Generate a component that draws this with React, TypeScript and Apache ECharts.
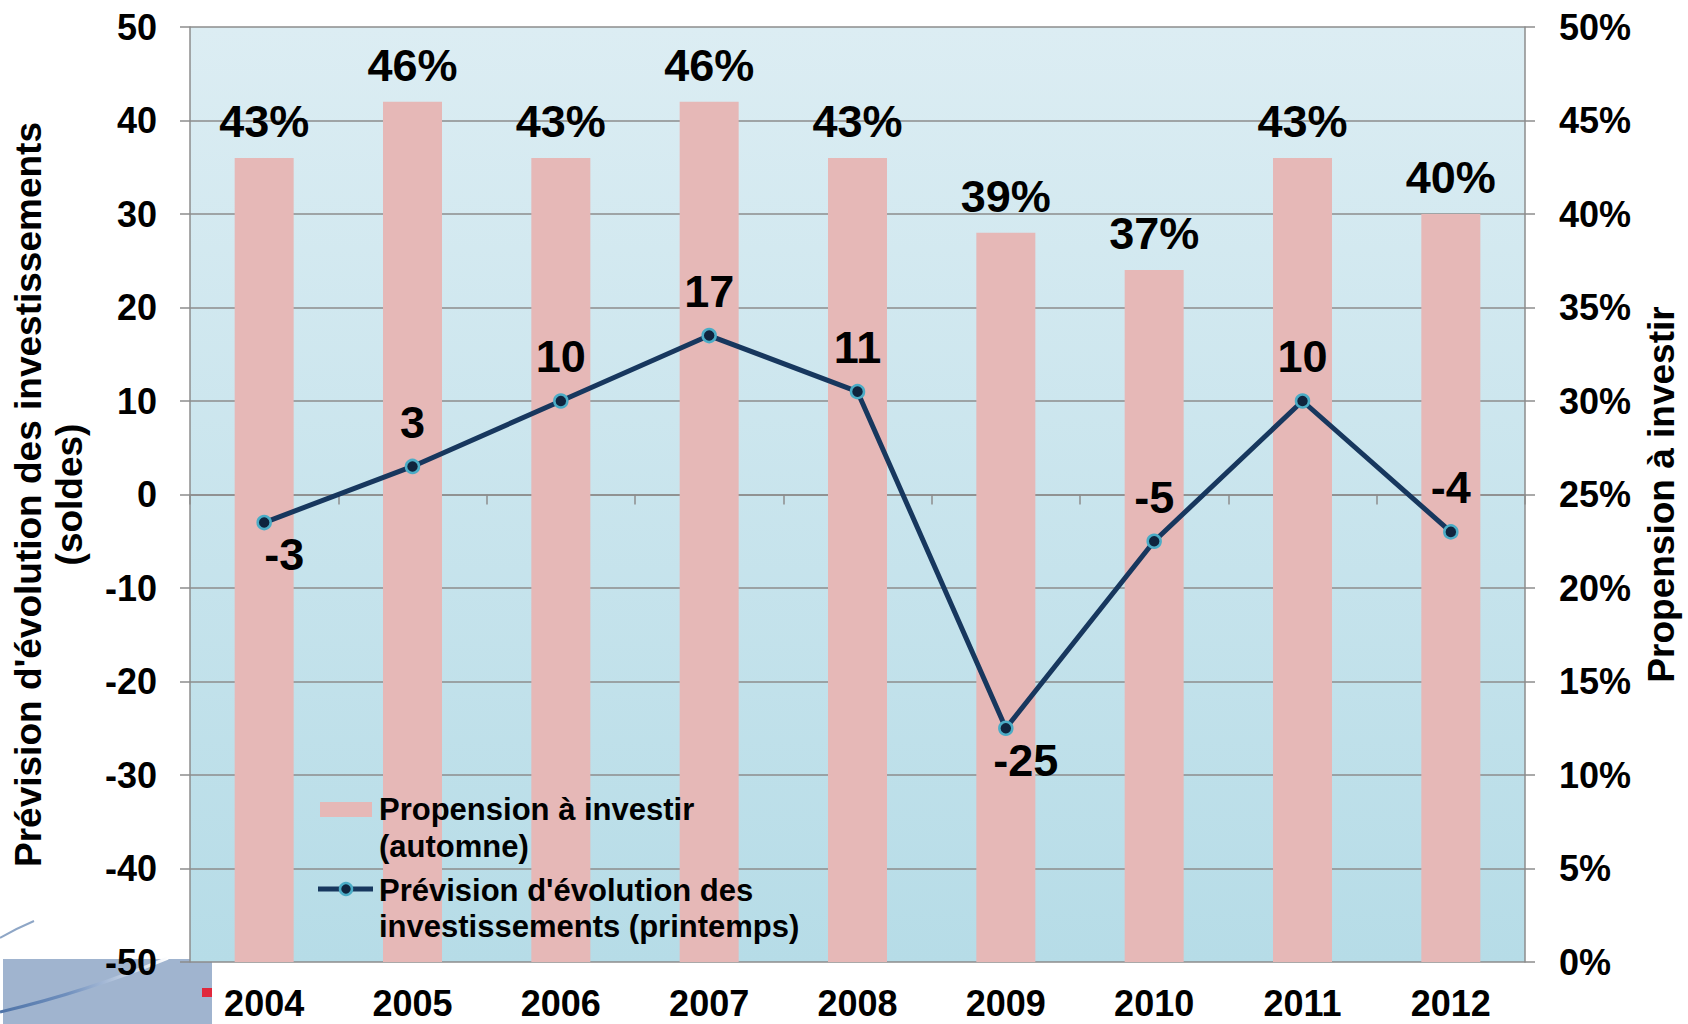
import React, { useEffect, useRef } from "react";
import * as echarts from "echarts";

const categories = ["2004", "2005", "2006", "2007", "2008", "2009", "2010", "2011", "2012"];
const propension = [43, 46, 43, 46, 43, 39, 37, 43, 40];
const prevision = [-3, 3, 10, 17, 11, -25, -5, 10, -4];
const leftMin = -50;
const leftMax = 50;
const leftInterval = 10;
const rightMin = 0;
const rightMax = 50;
const rightInterval = 5;
const previsionLabelBelow = [true, false, false, false, false, true, false, false, false];

const FONT = "'Liberation Sans', Arial, Helvetica, sans-serif";
const BAR_COLOR = "#e6b8b7";
const LINE_COLOR = "#17375e";
const MARK_FILL = "#0f243e";
const MARK_BORDER = "#4bacc6";
const GRID_COLOR = "#8c8c8c";

export default function App() {
  const ref = useRef<HTMLDivElement>(null);
  useEffect(() => {
    if (!ref.current) return;
    const chart = echarts.init(ref.current, undefined, { renderer: "svg" });
    const lineData = prevision.map((v, i) =>
      previsionLabelBelow[i]
        ? { value: v, label: { position: "bottom", distance: 2, offset: [20, 0] } }
        : { value: v }
    );
    const option: any = {
      animation: false,
      backgroundColor: "#ffffff",
      textStyle: { fontFamily: FONT },
      grid: {
        left: 185,
        top: 27,
        right: 161,
        bottom: 62,
        show: true,
        borderWidth: 0,
        backgroundColor: new echarts.graphic.LinearGradient(0, 0, 0, 1, [
          { offset: 0, color: "#dcedf3" },
          { offset: 1, color: "#b6dce7" },
        ]),
      },
      xAxis: [
        {
          type: "category",
          data: categories,
          position: "bottom",
          axisLine: { show: false, onZero: false },
          axisTick: { show: false },
          axisLabel: {
            margin: 22,
            fontSize: 36,
            lineHeight: 38,
            fontWeight: "bold",
            color: "#000",
            fontFamily: FONT,
            interval: 0,
          },
        },
        {
          type: "category",
          data: categories,
          position: "bottom",
          axisLine: { show: true, onZero: true, onZeroAxisIndex: 0, lineStyle: { color: GRID_COLOR, width: 1.5 } },
          axisTick: { show: true, length: 10, interval: 0, lineStyle: { color: GRID_COLOR, width: 1.5 } },
          axisLabel: { show: false },
        },
      ],
      yAxis: [
        {
          type: "value",
          min: leftMin,
          max: leftMax,
          interval: leftInterval,
          position: "left",
          name: "Prévision d'évolution des investissements\n(soldes)",
          nameLocation: "middle",
          nameRotate: 90,
          nameGap: 100,
          nameTextStyle: { fontSize: 37, fontWeight: "bold", color: "#000", lineHeight: 41, fontFamily: FONT },
          axisLine: { show: true, lineStyle: { color: GRID_COLOR, width: 1.5 } },
          axisTick: { show: true, length: 10, lineStyle: { color: GRID_COLOR, width: 1.5 } },
          splitLine: { show: true, lineStyle: { color: GRID_COLOR, width: 1.5 } },
          axisLabel: { margin: 33, fontSize: 36, fontWeight: "bold", color: "#000", fontFamily: FONT },
        },
        {
          type: "value",
          min: rightMin,
          max: rightMax,
          interval: rightInterval,
          position: "right",
          name: "Propension à investir",
          nameLocation: "middle",
          nameRotate: 90,
          nameGap: 118,
          nameTextStyle: { fontSize: 37, fontWeight: "bold", color: "#000", fontFamily: FONT },
          axisLine: { show: true, lineStyle: { color: GRID_COLOR, width: 1.5 } },
          axisTick: { show: true, length: 10, lineStyle: { color: GRID_COLOR, width: 1.5 } },
          splitLine: { show: false },
          axisLabel: {
            margin: 34,
            fontSize: 36,
            fontWeight: "bold",
            color: "#000",
            fontFamily: FONT,
            formatter: "{value}%",
          },
        },
      ],
      series: [
        {
          name: "Propension à investir (automne)",
          type: "bar",
          xAxisIndex: 0,
          yAxisIndex: 1,
          data: propension,
          barWidth: 59,
          itemStyle: { color: BAR_COLOR },
          label: {
            show: true,
            position: "top",
            distance: 14,
            formatter: "{c}%",
            fontSize: 45,
            fontWeight: "bold",
            color: "#000",
            fontFamily: FONT,
          },
          z: 2,
        },
        {
          name: "Prévision d'évolution des investissements (printemps)",
          type: "line",
          xAxisIndex: 0,
          yAxisIndex: 0,
          data: lineData,
          symbol: "circle",
          symbolSize: 13,
          lineStyle: { color: LINE_COLOR, width: 5 },
          itemStyle: { color: MARK_FILL, borderColor: MARK_BORDER, borderWidth: 2.5 },
          label: {
            show: true,
            position: "top",
            distance: 14,
            fontSize: 45,
            fontWeight: "bold",
            color: "#000",
            fontFamily: FONT,
          },
          z: 5,
        },
      ],
      graphic: [
        {
          type: "rect",
          z: -10,
          shape: { x: 3, y: 959, width: 209, height: 65 },
          style: { fill: "#a0b4cf" },
        },
        {
          type: "bezierCurve",
          z: -9,
          shape: { x1: 0, y1: 1012, cpx1: 60, cpy1: 998, cpx2: 115, cpy2: 980, x2: 168, y2: 958 },
          style: {
            fill: "none",
            lineWidth: 3,
            stroke: new echarts.graphic.LinearGradient(0, 0, 1, 0, [
              { offset: 0, color: "#4f74a8" },
              { offset: 0.4, color: "#6f8fbd" },
              { offset: 1, color: "#ffffff" },
            ]),
          },
        },
        {
          type: "bezierCurve",
          z: -9,
          shape: { x1: 0, y1: 938, cpx1: 12, cpy1: 931, cpx2: 22, cpy2: 926, x2: 34, y2: 921 },
          style: { fill: "none", lineWidth: 2, stroke: "#8ea6c6" },
        },
        {
          type: "rect",
          z: -9,
          shape: { x: 202, y: 988, width: 10, height: 9 },
          style: { fill: "#e0283c" },
        },
        {
          type: "rect",
          z: 50,
          shape: { x: 320, y: 802, width: 52, height: 15 },
          style: { fill: BAR_COLOR },
        },
        {
          type: "text",
          z: 50,
          x: 379,
          y: 791,
          style: {
            text: "Propension à investir\n(automne)",
            fontSize: 31,
            fontWeight: "bold",
            fontFamily: FONT,
            lineHeight: 37,
            fill: "#000",
            verticalAlign: "top",
            align: "left",
          },
        },
        {
          type: "line",
          z: 50,
          shape: { x1: 318, y1: 889, x2: 373, y2: 889 },
          style: { stroke: LINE_COLOR, lineWidth: 5 },
        },
        {
          type: "circle",
          z: 51,
          shape: { cx: 346, cy: 889, r: 6 },
          style: { fill: MARK_FILL, stroke: MARK_BORDER, lineWidth: 2.5 },
        },
        {
          type: "text",
          z: 50,
          x: 379,
          y: 872,
          style: {
            text: "Prévision d'évolution des\ninvestissements (printemps)",
            fontSize: 31,
            fontWeight: "bold",
            fontFamily: FONT,
            lineHeight: 36,
            fill: "#000",
            verticalAlign: "top",
            align: "left",
          },
        },
      ],
    };
    chart.setOption(option);
    return () => chart.dispose();
  }, []);
  return (
    <div
      ref={ref}
      style={{ position: "fixed", left: 0, top: 0, width: 1688, height: 1024 }}
    />
  );
}
